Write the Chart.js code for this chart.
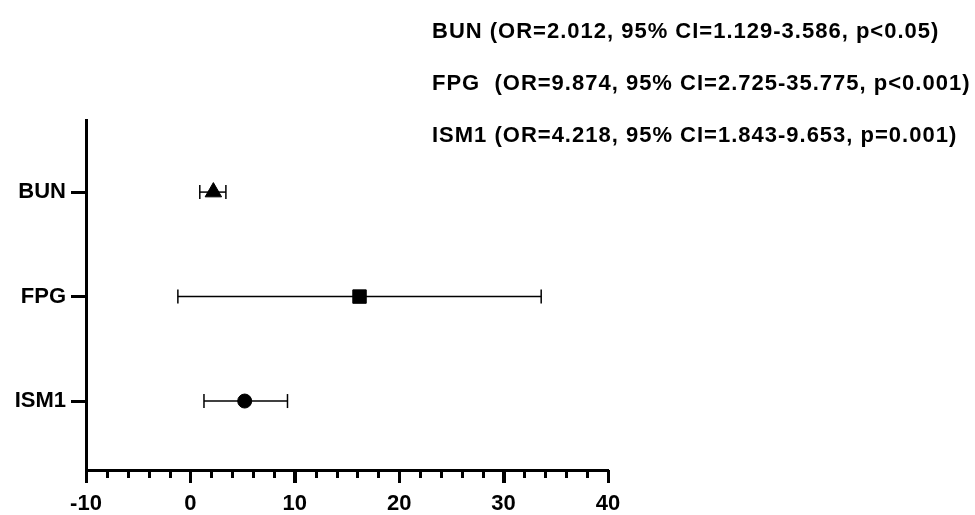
<!DOCTYPE html>
<html>
<head>
<meta charset="utf-8">
<script src="https://cdn.jsdelivr.net/npm/chart.js@4.4.1/dist/chart.umd.min.js"></script>
<style>
  html, body { margin: 0; padding: 0; background: #fff; }
  #wrap { position: relative; width: 975px; height: 515px; }
</style>
</head>
<body>
<div id="wrap"><canvas id="forest"></canvas></div>
<script>
// rows of the forest plot, top to bottom
var categories = ['BUN', 'FPG', 'ISM1'];
var orValues = [2.2, 16.2, 5.2];
var ciLower = [0.9, -1.2, 1.3];
var ciUpper = [3.4, 33.6, 9.3];
var markerStyles = ['triangle', 'rect', 'circle'];
var markerSizes = [9.5, 9.5, 7];
var xTicks = [-10, 0, 10, 20, 30, 40];
var notes = [
    'BUN (OR=2.012, 95% CI=1.129-3.586, p<0.05)',
    'FPG  (OR=9.874, 95% CI=2.725-35.775, p<0.001)',
    'ISM1 (OR=4.218, 95% CI=1.843-9.653, p=0.001)'
];

var FONT = '"Liberation Sans", Arial, sans-serif';

// markers first so they sit on top of the whiskers
var datasets = [{
    label: 'OR',
    data: categories.map(function (c, i) { return {x: orValues[i], y: i + 1}; }),
    pointStyle: markerStyles,
    pointRadius: markerSizes,
    pointBackgroundColor: '#000',
    pointBorderColor: '#000',
    pointBorderWidth: 1,
    showLine: false
}];
for (var i = 0; i < categories.length; i++) {
    datasets.push({
        label: categories[i] + ' CI',
        data: [{x: ciLower[i], y: i + 1}, {x: ciUpper[i], y: i + 1}],
        showLine: true,
        borderColor: '#000',
        borderWidth: 1.5,
        pointStyle: 'line',
        pointRotation: 90,
        pointRadius: 7,
        pointBorderWidth: 1.5,
        pointBorderColor: '#000'
    });
}

// x axis tick marks: long every 10, short every 2
var xTickMarks = {
    id: 'xTickMarks',
    afterDraw: function (chart) {
        var sc = chart.scales.x;
        var ctx = chart.ctx;
        var bottom = chart.chartArea.bottom;
        ctx.save();
        ctx.strokeStyle = '#000';
        ctx.lineWidth = 3;
        ctx.beginPath();
        for (var v = sc.min; v <= sc.max; v += 2) {
            var len = (v % 10 === 0) ? 13 : 8;
            var px = Math.round(sc.getPixelForValue(v)) + 0.5;
            ctx.moveTo(px, bottom);
            ctx.lineTo(px, bottom + len);
        }
        ctx.stroke();
        ctx.restore();
    }
};

// OR / CI summary text in the top right
var noteText = {
    id: 'noteText',
    afterDraw: function (chart) {
        var ctx = chart.ctx;
        ctx.save();
        ctx.fillStyle = '#000';
        ctx.font = 'bold 22px ' + FONT;
        ctx.letterSpacing = '1px';
        ctx.textBaseline = 'middle';
        ctx.textAlign = 'left';
        for (var j = 0; j < notes.length; j++) {
            ctx.fillText(notes[j], 432, 32 + j * 52);
        }
        ctx.restore();
    }
};

var ctx = document.getElementById('forest').getContext('2d');
new Chart(ctx, {
    type: 'scatter',
    data: {datasets: datasets},
    plugins: [xTickMarks, noteText],
    options: {
        responsive: true,
        maintainAspectRatio: false,
        animation: false,
        layout: {padding: {top: 120, right: 367, left: 0, bottom: 0}},
        plugins: {legend: {display: false}, tooltip: {enabled: false}},
        elements: {point: {hoverRadius: 0}},
        scales: {
            x: {
                type: 'linear',
                min: -10,
                max: 40,
                afterBuildTicks: function (scale) {
                    scale.ticks = xTicks.map(function (v) { return {value: v}; });
                },
                afterFit: function (scale) { scale.height = 45; },
                border: {display: true, color: '#000', width: 3},
                grid: {drawOnChartArea: false, drawTicks: true, tickLength: 13, tickWidth: 3, tickColor: '#000'},
                ticks: {color: '#000', padding: 8, font: {family: FONT, size: 22, weight: 'bold'}, maxRotation: 0}
            },
            y: {
                type: 'linear',
                reverse: true,
                min: 0.31,
                max: 3.66,
                afterBuildTicks: function (scale) {
                    scale.ticks = categories.map(function (c, i) { return {value: i + 1}; });
                },
                afterFit: function (scale) { scale.width = 86; },
                border: {display: true, color: '#000', width: 3},
                grid: {drawOnChartArea: false, drawTicks: true, tickLength: 15, tickWidth: 3, tickColor: '#000'},
                ticks: {
                    color: '#000',
                    padding: 5,
                    font: {family: FONT, size: 22, weight: 'bold'},
                    callback: function (value) { return categories[value - 1]; }
                }
            }
        }
    }
});
</script>
</body>
</html>
